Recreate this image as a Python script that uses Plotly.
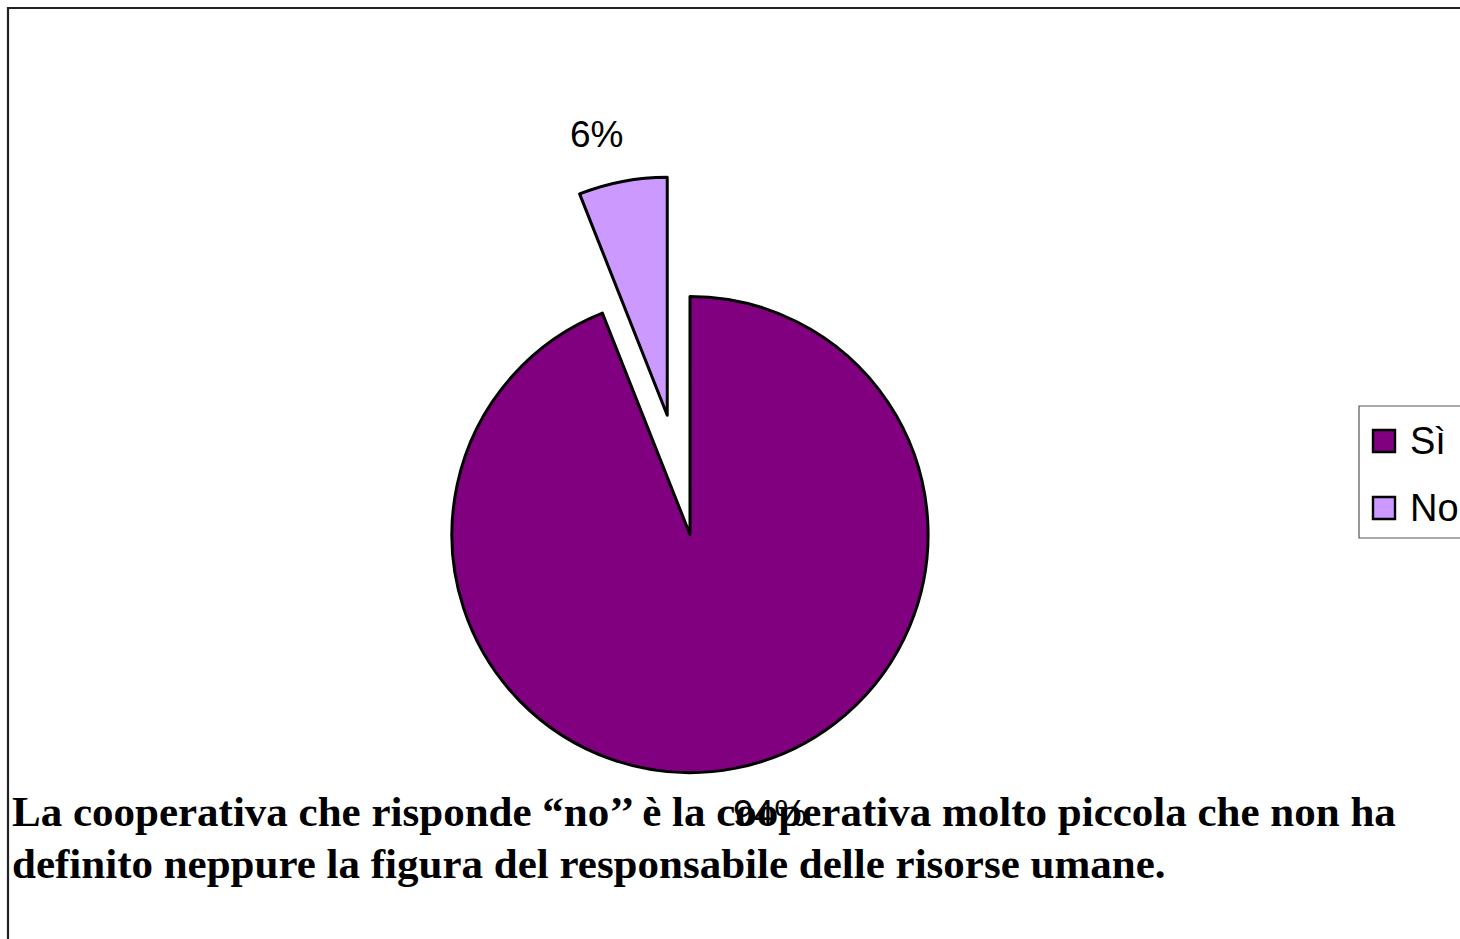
import plotly.graph_objects as go

# Survey answers
categories = ["Sì", "No"]
values = [94, 6]
colors = ["#800080", "#CC99FF"]
pulls = [0, 0.51]

note_lines = [
    "La cooperativa che risponde “no’’ è la cooperativa molto piccola che non ha",
    "definito neppure la figura del responsabile delle risorse umane.",
]

W, H = 1460, 939


def px(x):
    return x / W


def py(y):
    return 1 - y / H


fig = go.Figure()
fig.add_trace(go.Pie(
    labels=categories,
    values=values,
    sort=False,
    direction="clockwise",
    rotation=0,
    pull=pulls,
    marker=dict(colors=colors, line=dict(color="#000000", width=3)),
    textinfo="none",
    hoverinfo="label+percent",
    showlegend=False,
    domain=dict(x=[0.1644, 0.7808], y=[0.0479, 0.8136]),
))

total = sum(values)
pct = [f"{round(v / total * 100)}%" for v in values]
label_pos = [(770, 813), (596, 134)]

annotations = []
for text, (lx, ly) in zip(pct, label_pos):
    annotations.append(dict(
        x=px(lx), y=py(ly), xref="paper", yref="paper",
        text=text, showarrow=False, xanchor="center", yanchor="middle",
        font=dict(family="Liberation Sans, Arial, sans-serif", size=37, color="#000000"),
    ))

# Caption below the pie, one annotation per line
for line, ly in zip(note_lines, [811, 863]):
    annotations.append(dict(
        x=px(10), y=py(ly), xref="paper", yref="paper",
        text=f"<b>{line}</b>",
        showarrow=False, xanchor="left", yanchor="middle", align="left",
        font=dict(family="Liberation Serif, Times New Roman, serif", size=43, color="#000000"),
    ))

shapes = [
    # chart frame
    dict(type="rect", xref="paper", yref="paper",
         x0=px(8), y0=-0.05, x1=1.05, y1=py(8),
         line=dict(color="#222222", width=2.2), fillcolor="rgba(0,0,0,0)"),
    # legend frame
    dict(type="rect", xref="paper", yref="paper",
         x0=px(1359), y0=py(538), x1=1.05, y1=py(406),
         line=dict(color="#555555", width=1.2), fillcolor="rgba(0,0,0,0)"),
]

# legend entries
legend_rows = [441, 508]
for name, col, cy in zip(categories, colors, legend_rows):
    shapes.append(dict(type="rect", xref="paper", yref="paper",
                       x0=px(1373), x1=px(1395), y0=py(cy + 11), y1=py(cy - 11),
                       line=dict(color="#000000", width=2.4), fillcolor=col))
    annotations.append(dict(
        x=px(1408), y=py(cy), xref="paper", yref="paper",
        text=name, showarrow=False, xanchor="left", yanchor="middle",
        font=dict(family="Liberation Sans, Arial, sans-serif", size=38, color="#000000"),
    ))

fig.update_layout(
    width=W, height=H,
    margin=dict(l=0, r=0, t=0, b=0, autoexpand=False),
    paper_bgcolor="#FFFFFF",
    plot_bgcolor="#FFFFFF",
    annotations=annotations,
    shapes=shapes,
)

fig.write_html("out.html")
